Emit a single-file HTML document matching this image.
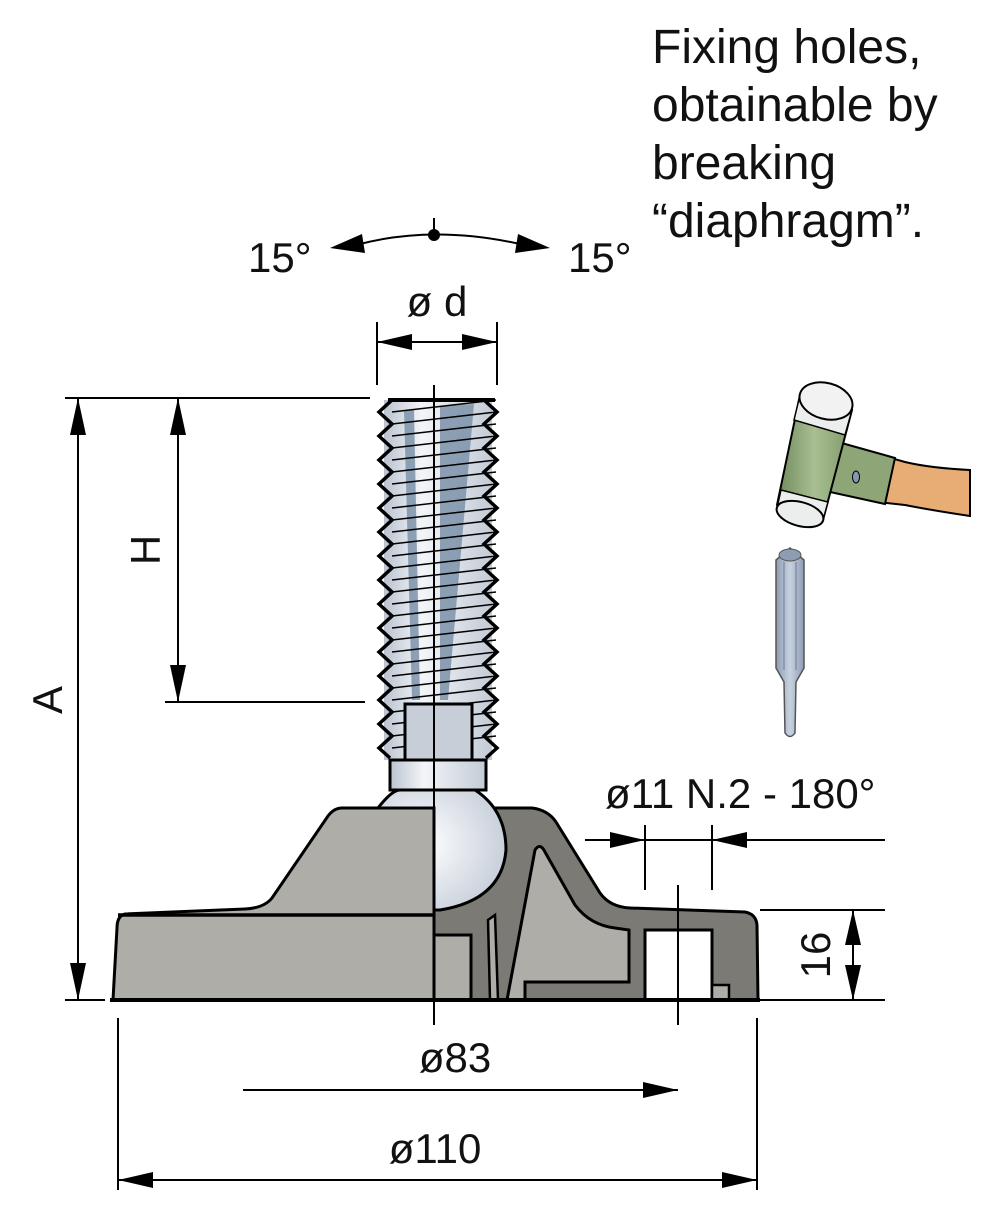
<!DOCTYPE html>
<html><head><meta charset="utf-8"><style>body{margin:0;background:#fff}svg{display:block}text{font-family:"Liberation Sans",Arial,sans-serif;fill:#111}</style></head><body>
<svg width="994" height="1217" viewBox="0 0 994 1217" xmlns="http://www.w3.org/2000/svg">
<defs>
<linearGradient id="st" x1="0" x2="1"><stop offset="0" stop-color="#b9c3cf"/><stop offset="0.35" stop-color="#f3f5f8"/><stop offset="1" stop-color="#c3cbd6"/></linearGradient>
<radialGradient id="ball" cx="0.35" cy="0.45" r="0.7"><stop offset="0" stop-color="#fff"/><stop offset="1" stop-color="#c4ccd8"/></radialGradient>
<linearGradient id="gr" x1="0" x2="1"><stop offset="0" stop-color="#6f8a5c"/><stop offset="0.5" stop-color="#a9bf93"/><stop offset="1" stop-color="#7e9868"/></linearGradient>
<linearGradient id="pu" x1="0" x2="1"><stop offset="0" stop-color="#8e9db4"/><stop offset="0.5" stop-color="#c7d1e0"/><stop offset="1" stop-color="#8e9db4"/></linearGradient>
</defs>
<g font-size="48">
<text x="652" y="63">Fixing holes,</text>
<text x="652" y="121">obtainable by</text>
<text x="652" y="179">breaking</text>
<text x="652" y="237">“diaphragm”.</text>
</g>
<g font-size="42">
<text x="248" y="272">15°</text>
<text x="568" y="272">15°</text>
<text x="437" y="316" text-anchor="middle">ø d</text>
<text x="605" y="808">ø11 N.2 - 180°</text>
<text x="455" y="1072" text-anchor="middle">ø83</text>
<text x="435" y="1163" text-anchor="middle">ø110</text>
<text transform="translate(62,700) rotate(-90)" text-anchor="middle">A</text>
<text transform="translate(160,550) rotate(-90)" text-anchor="middle">H</text>
<text transform="translate(830,955) rotate(-90)" text-anchor="middle">16</text>
</g>
<path d="M360,244 Q434,225 520,244" fill="none" stroke="#000" stroke-width="2"/>
<polygon points="330,248 362,234 365,253" fill="#000"/>
<polygon points="550,248 518,234 515,253" fill="#000"/>
<circle cx="434" cy="235" r="6" fill="#000"/>
<line x1="434" y1="218" x2="434" y2="230" stroke="#000" stroke-width="2"/>
<g stroke="#000" stroke-width="2" fill="none">
<line x1="377" y1="322" x2="377" y2="385"/><line x1="497" y1="322" x2="497" y2="385"/>
<line x1="377" y1="342" x2="497" y2="342"/>
<line x1="65" y1="398" x2="370" y2="398"/><line x1="65" y1="1000" x2="105" y2="1000"/>
<line x1="78" y1="398" x2="78" y2="1000"/>
<line x1="165" y1="702" x2="365" y2="702"/>
<line x1="178" y1="398" x2="178" y2="702"/>
<line x1="585" y1="840" x2="885" y2="840"/>
<line x1="645" y1="825" x2="645" y2="890"/><line x1="712" y1="825" x2="712" y2="890"/>
<line x1="760" y1="910" x2="885" y2="910"/><line x1="760" y1="1000" x2="885" y2="1000"/>
<line x1="853" y1="910" x2="853" y2="1000"/>
<line x1="243" y1="1090" x2="678" y2="1090"/>
<line x1="118" y1="1180" x2="757" y2="1180"/>
<line x1="118" y1="1018" x2="118" y2="1190"/><line x1="757" y1="1018" x2="757" y2="1190"/>
</g>
<g fill="#000">
<polygon points="377,342 412,334 412,350"/><polygon points="497,342 462,334 462,350"/>
<polygon points="78,398 70,435 86,435"/><polygon points="78,1000 70,963 86,963"/>
<polygon points="178,398 170,435 186,435"/><polygon points="178,702 170,665 186,665"/>
<polygon points="645,840 610,832 610,848"/><polygon points="712,840 747,832 747,848"/>
<polygon points="853,910 845,945 861,945"/><polygon points="853,1000 845,965 861,965"/>
<polygon points="678,1090 643,1082 643,1098"/>
<polygon points="118,1180 153,1172 153,1188"/><polygon points="757,1180 722,1172 722,1188"/>
</g>
<!-- screw -->
<rect x="384" y="400" width="108" height="360" fill="url(#st)"/>
<g fill="#7d93ab" opacity="0.85">
<path d="M404,410 L414,410 L420,700 L412,700 Z"/><path d="M440,406 L474,404 L448,700 L440,700 Z"/>
</g>
<g stroke="#000" stroke-width="1.5">
<line x1="392" y1="412" x2="496" y2="400"/><line x1="392" y1="424" x2="496" y2="412"/><line x1="392" y1="436" x2="496" y2="424"/><line x1="392" y1="448" x2="496" y2="436"/><line x1="392" y1="460" x2="496" y2="448"/><line x1="392" y1="472" x2="496" y2="460"/><line x1="392" y1="484" x2="496" y2="472"/><line x1="392" y1="496" x2="496" y2="484"/><line x1="392" y1="508" x2="496" y2="496"/><line x1="392" y1="520" x2="496" y2="508"/><line x1="392" y1="532" x2="496" y2="520"/><line x1="392" y1="544" x2="496" y2="532"/><line x1="392" y1="556" x2="496" y2="544"/><line x1="392" y1="568" x2="496" y2="556"/><line x1="392" y1="580" x2="496" y2="568"/><line x1="392" y1="592" x2="496" y2="580"/><line x1="392" y1="604" x2="496" y2="592"/><line x1="392" y1="616" x2="496" y2="604"/><line x1="392" y1="628" x2="496" y2="616"/><line x1="392" y1="640" x2="496" y2="628"/><line x1="392" y1="652" x2="496" y2="640"/><line x1="392" y1="664" x2="496" y2="652"/><line x1="392" y1="676" x2="496" y2="664"/><line x1="392" y1="688" x2="496" y2="676"/><line x1="392" y1="700" x2="496" y2="688"/><line x1="392" y1="712" x2="496" y2="700"/><line x1="392" y1="724" x2="496" y2="712"/><line x1="392" y1="736" x2="496" y2="724"/><line x1="392" y1="748" x2="496" y2="736"/>
</g>
<g fill="none" stroke="#000" stroke-width="3.5" stroke-linejoin="miter">
<path d="M392,400 L379,412 L392,424 L379,436 L392,448 L379,460 L392,472 L379,484 L392,496 L379,508 L392,520 L379,532 L392,544 L379,556 L392,568 L379,580 L392,592 L379,604 L392,616 L379,628 L392,640 L379,652 L392,664 L379,676 L392,688 L379,700 L392,712 L379,724 L392,736 L379,748 L390,758"/>
<path d="M484,400 L497,412 L484,424 L497,436 L484,448 L497,460 L484,472 L497,484 L484,496 L497,508 L484,520 L497,532 L484,544 L497,556 L484,568 L497,580 L484,592 L497,604 L484,616 L497,628 L484,640 L497,652 L484,664 L497,676 L484,688 L497,700 L484,712 L497,724 L484,736 L497,748 L486,758"/>
</g>
<line x1="388" y1="400" x2="495" y2="400" stroke="#000" stroke-width="4"/>
<rect x="405" y="704" width="67" height="56" fill="#c8ced8" stroke="#000" stroke-width="3"/>
<rect x="390" y="760" width="96" height="30" fill="url(#st)" stroke="#000" stroke-width="3"/>
<!-- base right section -->
<path d="M434,808 L532,808 Q548,810 556,822 L600,893 Q610,907 630,908 L745,912 Q756,914 757,925 L758,1000 L434,1000 Z" fill="#7b7a74" stroke="#000" stroke-width="3"/>
<path d="M535,850 Q540,842 545,852 L575,905 Q590,925 615,928 L629,930 L629,982 L525,982 L525,1000 L507,1000 Z" fill="#aeada8" stroke="#000" stroke-width="3"/>
<path d="M488,920 L495,915 L498,1000 L490,1000 Z" fill="#aeada8" stroke="#000" stroke-width="2.5"/>
<rect x="434" y="935" width="37" height="65" fill="#aeada8" stroke="#000" stroke-width="3"/>
<rect x="645" y="930" width="67" height="70" fill="#fff" stroke="#000" stroke-width="3"/>
<rect x="712" y="985" width="17" height="15" fill="#aeada8" stroke="#000" stroke-width="2.5"/>
<!-- ball -->
<path d="M378,808 Q392,790 400,790 L475,790 Q506,810 506,850 Q502,900 440,910 L434,910 L434,808 Z" fill="url(#ball)" stroke="#000" stroke-width="3"/>
<!-- base left -->
<path d="M434,808 L342,808 Q334,808 328,816 L272,898 Q264,908 245,909 L125,914 Q117,916 117,928 L113,1000 L434,1000 Z" fill="#aeada8" stroke="#000" stroke-width="3"/>
<line x1="118" y1="915" x2="434" y2="915" stroke="#000" stroke-width="3.5"/>
<line x1="110" y1="1000" x2="760" y2="1000" stroke="#000" stroke-width="4"/>
<line x1="434" y1="385" x2="434" y2="1025" stroke="#000" stroke-width="2"/>
<line x1="678" y1="885" x2="678" y2="1025" stroke="#000" stroke-width="2"/>
<!-- hammer -->
<path d="M880,455 L905,462 Q930,468 970,470 L970,516 Q930,510 905,505 L878,502 Z" fill="#e8ad75" stroke="#000" stroke-width="2"/>
<path d="M838,442 L895,458 L885,504 L830,492 Z" fill="#8da577" stroke="#000" stroke-width="2"/>
<ellipse cx="856" cy="477" rx="3.5" ry="6" fill="#8898b0" stroke="#000" stroke-width="1"/>
<path d="M800,395 L852,410 L823,520 L777,505 Z" fill="url(#gr)" stroke="#000" stroke-width="2"/>
<path d="M800,395 L852,410 L845,435 L794,420 Z" fill="#eceeee" stroke="#000" stroke-width="1.5"/>
<path d="M781,490 L828,502 L823,520 L777,508 Z" fill="#eceeee" stroke="#000" stroke-width="1.5"/>
<ellipse cx="826" cy="401" rx="27" ry="18" transform="rotate(15 826 401)" fill="#f2f2f2" stroke="#000" stroke-width="2"/>
<ellipse cx="800" cy="514" rx="24" ry="12" transform="rotate(15 800 514)" fill="#eceeee" stroke="#000" stroke-width="2"/>
<!-- punch -->
<path d="M776,560 L790,548 L804,560 L804,668 L796,682 L795,733 Q790,740 785,733 L784,682 L776,668 Z" fill="url(#pu)" stroke="#555" stroke-width="1.5"/>
<ellipse cx="790" cy="555" rx="11" ry="6" fill="#8e9db4" stroke="#555"/>
<line x1="784" y1="562" x2="784" y2="670" stroke="#6c7a92" stroke-width="1"/>
<line x1="796" y1="562" x2="796" y2="670" stroke="#6c7a92" stroke-width="1"/>
</svg>
</body></html>
